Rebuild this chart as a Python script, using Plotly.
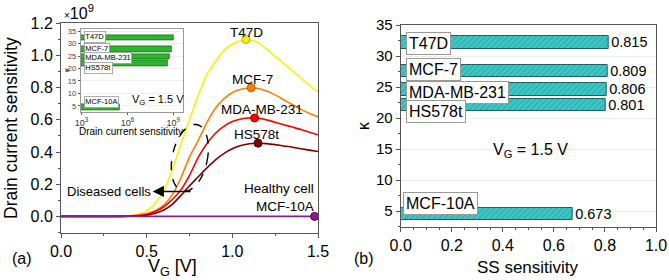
import numpy as np
import plotly.graph_objects as go

# ---------------- data ----------------
vg = [0.0, 0.2, 0.3, 0.4, 0.45, 0.5, 0.55, 0.6, 0.65, 0.7, 0.75, 0.8, 0.85, 0.9,
      0.95, 1.0, 1.05, 1.1, 1.15, 1.2, 1.25, 1.3, 1.35, 1.4, 1.45, 1.5]
t47d = [0, 0, 0.001, 0.004, 0.012, 0.035, 0.08, 0.16, 0.29, 0.45, 0.60, 0.75, 0.88, 0.96,
        1.03, 1.07, 1.093, 1.098, 1.08, 1.04, 0.995, 0.95, 0.905, 0.86, 0.815, 0.775]
mcf7 = [0, 0, 0, 0.003, 0.008, 0.018, 0.035, 0.07, 0.135, 0.24, 0.37, 0.47, 0.58, 0.67,
        0.73, 0.77, 0.79, 0.798, 0.795, 0.78, 0.755, 0.725, 0.695, 0.665, 0.64, 0.62]
mda = [0, 0, 0, 0.002, 0.005, 0.012, 0.03, 0.06, 0.105, 0.165, 0.255, 0.365, 0.45, 0.515,
       0.56, 0.59, 0.605, 0.612, 0.61, 0.60, 0.585, 0.57, 0.555, 0.54, 0.523, 0.507]
hs578t = [0, 0, 0, 0.001, 0.003, 0.007, 0.02, 0.04, 0.075, 0.13, 0.19, 0.245, 0.30, 0.35,
          0.39, 0.42, 0.44, 0.452, 0.455, 0.452, 0.446, 0.438, 0.43, 0.42, 0.412, 0.403]
mcf10a = [0, 0, 0, 0, 0, 0, 0, 0, 0, 0, 0, 0, 0, 0,
          0, 0, 0, 0, 0, 0, 0, 0, 0, 0, 0, 0]

peak_x = [1.08, 1.11, 1.13, 1.15, 1.48]
peak_y = [1.10, 0.80, 0.612, 0.455, 0.0]

cells = ["T47D", "MCF-7", "MDA-MB-231", "HS578t", "MCF-10A"]
kappa = [32.2, 27.6, 24.6, 22.1, 4.5]
ss_sens = [0.815, 0.809, 0.806, 0.801, 0.673]
drain_sens = [1.1e9, 0.8e9, 0.612e9, 0.455e9, 3.2e5]

# ---------------- styles ----------------
FONT = "Liberation Sans, Arial, sans-serif"
curve_colors = ["#f5f500", "#ff7f00", "#ff0000", "#800000", "#8b1a8b"]
marker_edges = ["#b8a800", "#c05a00", "#b00000", "#500000", "#5a005a"]
W, H = 669, 280


def px_x(p):
    return p / W


def px_y(p):
    return 1 - p / H


fig = go.Figure()

series = [t47d, mcf7, mda, hs578t, mcf10a]
for s, c, name in zip(series, curve_colors, cells):
    fig.add_trace(go.Scatter(x=vg, y=s, mode="lines", name=name,
                             line=dict(color=c, width=1.6, shape="spline", smoothing=0.6),
                             xaxis="x", yaxis="y", showlegend=False))
fig.add_trace(go.Scatter(x=peak_x, y=peak_y, mode="markers",
                         marker=dict(color=curve_colors, size=8,
                                     line=dict(color=marker_edges, width=1)),
                         xaxis="x", yaxis="y", showlegend=False, cliponaxis=False))

# right bar chart
fig.add_trace(go.Bar(x=ss_sens, y=kappa, orientation="h", width=2.0,
                     marker=dict(color="#3ec8c8", line=dict(color="#1f5f5f", width=1),
                                 pattern=dict(shape="/", fgcolor="#1f8a8a", size=4,
                                              solidity=0.3, fillmode="overlay")),
                     text=[f"{v:.3f}" for v in ss_sens], textposition="outside",
                     textfont=dict(size=14.5, color="black", family=FONT),
                     constraintext="none", cliponaxis=False,
                     xaxis="x2", yaxis="y2", showlegend=False))

# inset bar chart
fig.add_trace(go.Bar(x=drain_sens, y=kappa, orientation="h", width=2.2,
                     marker=dict(color="#2eb52e", line=dict(color="#1a6a1a", width=0.8)),
                     xaxis="x3", yaxis="y3", showlegend=False))

axis_common = dict(showline=True, linecolor="#555", linewidth=1, mirror=True,
                   ticks="outside", ticklen=4, tickcolor="#555", showgrid=False,
                   zeroline=False, ticklabeloverflow="allow",
                   tickfont=dict(family=FONT, size=16, color="black"))

fig.update_layout(
    width=W, height=H, margin=dict(l=0, r=0, t=0, b=0, autoexpand=False),
    paper_bgcolor="white", plot_bgcolor="white", bargap=0,
    font=dict(family=FONT, color="black"),
    xaxis=dict(axis_common, domain=[px_x(61), px_x(318)], range=[0, 1.5],
               tickvals=[0, 0.5, 1.0, 1.5], tickformat=".1f", anchor="y",
               minor=dict(ticks="outside", ticklen=2, dtick=0.25, tickcolor="#555")),
    yaxis=dict(axis_common, domain=[px_y(232.5), px_y(23.3)], range=[-0.1, 1.2],
               tickvals=[0, 0.2, 0.4, 0.6, 0.8, 1.0, 1.2], tickformat=".1f", anchor="x",
               minor=dict(ticks="outside", ticklen=2, dtick=0.1, tickcolor="#555")),
    xaxis2=dict(axis_common, domain=[px_x(400.7), px_x(656)], range=[0, 1.0],
                dtick=0.2, tickformat=".1f", anchor="y2",
                minor=dict(ticks="outside", ticklen=2, dtick=0.05, tickcolor="#555")),
    yaxis2=dict(axis_common, domain=[px_y(226.7), px_y(25)], range=[2.5, 35],
                dtick=5, anchor="x2", showgrid=True, gridcolor="#ececec",
                tickfont=dict(family=FONT, size=15, color="black"),
                minor=dict(ticks="outside", ticklen=2, dtick=2.5, tickcolor="#555")),
    xaxis3=dict(axis_common, type="log", domain=[px_x(80.7), px_x(183.3)],
                range=[2.95, 9.65], tickvals=[1e3, 1e6, 1e9],
                ticktext=["10<sup>3</sup>", "10<sup>6</sup>", "10<sup>9</sup>"],
                ticklen=2, linecolor="#999", tickfont=dict(family=FONT, size=9, color="#333"),
                anchor="y3"),
    yaxis3=dict(axis_common, domain=[px_y(111.7), px_y(29.3)], range=[2.7, 35.7],
                dtick=5, ticklen=2, linecolor="#999", showgrid=True, gridcolor="#f0f0f0",
                tickfont=dict(family=FONT, size=7.5, color="#444"), anchor="x3"),
)

ann = []


def paper_text(text, x, y, size, angle=0, xanchor="center"):
    return dict(text=text, x=px_x(x), y=px_y(y), xref="paper", yref="paper",
                xanchor=xanchor, yanchor="middle", textangle=angle,
                showarrow=False, font=dict(size=size))


# axis titles and panel labels
ann.append(paper_text("Drain current sensitivity", 11, 128, 17.5, -90))
ann.append(paper_text("V<sub>G</sub> [V]", 172, 267, 18))
ann.append(paper_text("(a)", 22, 258, 16))
ann.append(paper_text("<span style='font-size:10px'>×</span>10<sup>9</sup>", 62, 12, 16,
                      xanchor="left"))
ann.append(paper_text("SS sensitivity", 528, 267, 17))
ann.append(paper_text("κ", 364, 126, 16, -90))
ann.append(paper_text("(b)", 364, 258, 16))
ann.append(dict(text="V<sub>G</sub> = 1.5 V", x=0.51, y=14.8, xref="x2", yref="y2",
                showarrow=False, font=dict(size=16)))

# curve labels on left
curve_label_pos = [(1.081, 1.145), (1.115, 0.85), (1.175, 0.665), (1.139, 0.507)]
for name, (lx, ly) in zip(cells[:4], curve_label_pos):
    ann.append(dict(text=name, x=lx, y=ly, xref="x", yref="y", showarrow=False,
                    font=dict(size=13.5)))
ann.append(dict(text="Healthy cell<br>MCF-10A", x=1.49, y=0.115, xref="x", yref="y",
                xanchor="right", align="right", showarrow=False, font=dict(size=13.5)))
ann.append(dict(text="Diseased cells", x=0.28, y=0.155, xref="x", yref="y",
                showarrow=False, font=dict(size=13)))
ann.append(dict(text="", x=0.535, y=0.155, ax=0.765, ay=0.155, xref="x", yref="y",
                axref="x", ayref="y", showarrow=True, arrowhead=2, arrowsize=1.4,
                arrowwidth=1.6, arrowcolor="black"))

# boxed bar labels (right)
label_dy = [-0.15, 0.2, -0.5, -1.0, 1.7]
for name, k, dy in zip(cells, kappa, label_dy):
    ann.append(dict(text=name, x=0.022 if name != "MCF-10A" else 0.01, y=k + dy,
                    xref="x2", yref="y2", xanchor="left", yanchor="middle",
                    showarrow=False, font=dict(size=16), bgcolor="white",
                    bordercolor="#999", borderwidth=1, borderpad=2))

# inset labels
inset_dy = [0.5, 0.1, -0.5, -1.8, 2.2]
for name, k, dy in zip(cells, kappa, inset_dy):
    ann.append(dict(text=name, x=0.03, y=k + dy, xref="x3 domain", yref="y3",
                    xanchor="left", yanchor="middle", showarrow=False, font=dict(size=7.5),
                    bgcolor="white", bordercolor="#999", borderwidth=0.8, borderpad=0.5))
ann.append(paper_text("V<sub>G</sub> = 1.5 V", 158, 100, 11))
ann.append(paper_text("Drain current sensitivity", 131, 131, 10))
ann.append(paper_text("κ", 66, 70, 8, -90))

fig.update_layout(annotations=ann)

# dashed tilted ellipse (decoration) built in pixel space then mapped to data units
t = np.linspace(0, 2 * np.pi, 60)
rx, ry, alpha = 17.5, 34.0, np.deg2rad(12)
u, v = rx * np.cos(t), ry * np.sin(t)
xp = u * np.cos(alpha) + v * np.sin(alpha)
yp = -u * np.sin(alpha) + v * np.cos(alpha)
cx, cy = 0.752, 0.364
sx, sy = 256.7 / 1.5, 209.2 / 1.3
pts = [(cx + a / sx, cy + b / sy) for a, b in zip(xp, yp)]
path = "M " + " L ".join(f"{a:.4f},{b:.4f}" for a, b in pts) + " Z"
fig.add_shape(type="path", path=path, xref="x", yref="y",
              line=dict(color="black", width=1.4, dash="dash"))

fig.write_html("out.html")
